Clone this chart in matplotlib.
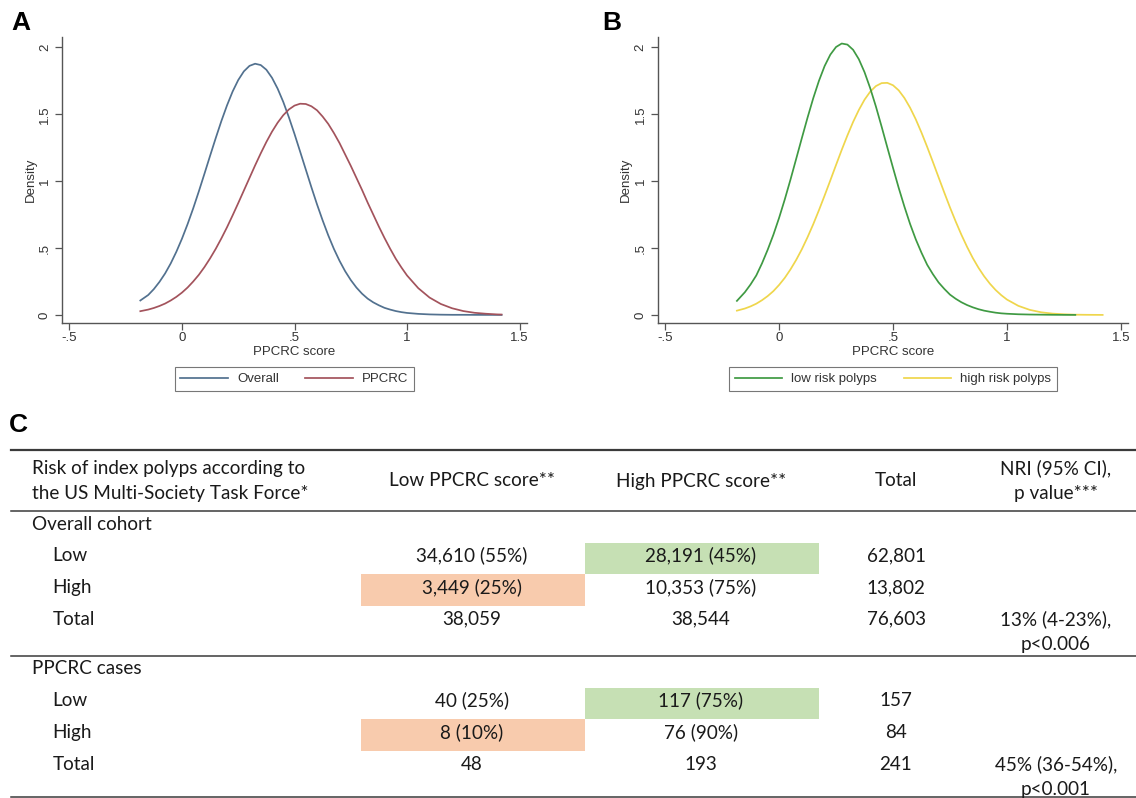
import matplotlib
matplotlib.use("Agg")
import matplotlib.pyplot as plt
from matplotlib.patches import Rectangle

score = [-0.185,
         -0.15, -0.125, -0.10, -0.075, -0.05, -0.025, 0.00, 0.025, 0.05, 0.075,
         0.10, 0.125, 0.15, 0.175, 0.20, 0.225, 0.25, 0.275, 0.30, 0.325,
         0.35, 0.375, 0.40, 0.425, 0.45, 0.475, 0.50, 0.525, 0.55, 0.575,
         0.60, 0.625, 0.65, 0.675, 0.70, 0.725, 0.75, 0.775, 0.80, 0.825,
         0.85, 0.875, 0.90, 0.925, 0.95, 0.975, 1.00,
         1.05, 1.10, 1.15, 1.20, 1.25, 1.30, 1.35, 1.40, 1.42]

dens_overall = [0.108,
                0.149, 0.193, 0.247, 0.310, 0.385, 0.472, 0.570, 0.679, 0.797, 0.924,
                1.056, 1.190, 1.322, 1.449, 1.566, 1.670, 1.756, 1.821, 1.862, 1.878,
                1.868, 1.833, 1.773, 1.692, 1.593, 1.478, 1.353, 1.221, 1.088, 0.955,
                0.827, 0.707, 0.595, 0.494, 0.405, 0.327, 0.261, 0.205, 0.159, 0.122,
                0.094, 0.072, 0.053, 0.040, 0.029, 0.021, 0.015,
                0.008, 0.004, 0.002, 0.001, 0.001, 0.0005, 0.0003, 0.0002, 0.0001]
dens_ppcrc = [0.028,
              0.040, 0.052, 0.067, 0.085, 0.108, 0.135, 0.167, 0.205, 0.250, 0.300,
              0.358, 0.423, 0.494, 0.572, 0.655, 0.744, 0.836, 0.930, 1.024, 1.118,
              1.208, 1.293, 1.370, 1.437, 1.493, 1.536, 1.565, 1.579, 1.577, 1.560,
              1.530, 1.483, 1.428, 1.360, 1.285, 1.200, 1.115, 1.025, 0.935, 0.840,
              0.750, 0.660, 0.575, 0.495, 0.420, 0.355, 0.295,
              0.200, 0.130, 0.082, 0.050, 0.029, 0.016, 0.009, 0.004, 0.003]
dens_low_risk = [0.105,
                 0.170, 0.228, 0.295, 0.385, 0.487, 0.599, 0.725, 0.863, 1.011, 1.166,
                 1.322, 1.475, 1.620, 1.750, 1.861, 1.946, 2.003, 2.029, 2.021, 1.982,
                 1.912, 1.815, 1.695, 1.558, 1.408, 1.253, 1.100, 0.950, 0.810, 0.680,
                 0.565, 0.465, 0.375, 0.305, 0.243, 0.195, 0.152, 0.121, 0.095, 0.074,
                 0.057, 0.043, 0.032, 0.024, 0.017, 0.012, 0.009,
                 0.005, 0.003, 0.002, 0.001, 0.0005, 0.0003]
dens_high_risk = [0.032,
                  0.048, 0.064, 0.084, 0.110, 0.141, 0.178, 0.224, 0.277, 0.340, 0.411,
                  0.491, 0.581, 0.678, 0.783, 0.893, 1.006, 1.121, 1.234, 1.342, 1.443,
                  1.532, 1.609, 1.669, 1.711, 1.733, 1.735, 1.717, 1.679, 1.622, 1.549,
                  1.462, 1.363, 1.256, 1.144, 1.029, 0.915, 0.804, 0.699, 0.600, 0.509,
                  0.426, 0.353, 0.289, 0.234, 0.187, 0.148, 0.115,
                  0.068, 0.038, 0.020, 0.010, 0.005, 0.002, 0.001, 0.0005, 0.0002]

x_ticks = [-0.5, 0, 0.5, 1, 1.5]
x_tick_labels = ["-.5", "0", ".5", "1", "1.5"]
y_ticks = [0, 0.5, 1, 1.5, 2]
y_tick_labels = ["0", ".5", "1", "1.5", "2"]

# ---- table C ----
header_first = ["Risk of index polyps according to", "the US Multi-Society Task Force*"]
header_cols = ["Low PPCRC score**", "High PPCRC score**", "Total", "NRI (95% CI),\np value***"]
groups = ["Overall cohort", "PPCRC cases"]
row_labels = ["Low", "High", "Total"]
overall_rows = [["34,610 (55%)", "28,191 (45%)", "62,801"],
                ["3,449 (25%)", "10,353 (75%)", "13,802"],
                ["38,059", "38,544", "76,603"]]
cases_rows = [["40 (25%)", "117 (75%)", "157"],
              ["8 (10%)", "76 (90%)", "84"],
              ["48", "193", "241"]]
nri = ["13% (4-23%),\np<0.006", "45% (36-54%),\np<0.001"]

W, H = 1136, 798
plt.rcParams["font.family"] = ["Liberation Sans", "DejaVu Sans"]
fig = plt.figure(figsize=(W / 100, H / 100), dpi=100)

axis_col = "#555555"
txt_col = "#333333"


def density_panel(rect, curves, colors, names, order):
    ax = fig.add_axes(rect)
    lines = []
    for (xs, ys), c in zip(curves, colors):
        ln, = ax.plot(xs, ys, color=c, lw=1.25)
        lines.append(ln)
    ax.set_xlim(-0.533, 1.533)
    ax.set_ylim(-0.058, 2.08)
    ax.set_xticks(x_ticks)
    ax.set_xticklabels(x_tick_labels)
    ax.set_yticks(y_ticks)
    ax.set_yticklabels(y_tick_labels, rotation=90, va="center")
    for s in ["top", "right"]:
        ax.spines[s].set_visible(False)
    for s in ["left", "bottom"]:
        ax.spines[s].set_color(axis_col)
        ax.spines[s].set_linewidth(1.0)
    ax.tick_params(length=5, width=0.9, color=axis_col, labelsize=9.5,
                   labelcolor=txt_col)
    ax.tick_params(axis="x", pad=1.5)
    ax.tick_params(axis="y", pad=3)
    ax.set_xlabel("PPCRC score", fontsize=9.5, color=txt_col)
    ax.set_ylabel("Density", fontsize=9.5, color=txt_col)
    ax.xaxis.set_label_coords(0.5, -0.081)
    ax.yaxis.set_label_coords(-0.054, 0.5)
    leg = ax.legend([lines[i] for i in order], [names[i] for i in order],
                    loc="center", bbox_to_anchor=(0.5, -0.197),
                    ncol=2, fontsize=9.5, frameon=True, fancybox=False,
                    edgecolor="#777777", framealpha=1, handlelength=3.6,
                    handletextpad=0.7, columnspacing=2.0, borderpad=0.45)
    leg.get_frame().set_linewidth(0.8)
    for t in leg.get_texts():
        t.set_color(txt_col)
    return ax


density_panel([62 / W, 1 - 322.7 / H, 465 / W, 286 / H],
              [(score, dens_overall), (score, dens_ppcrc)],
              ["#52718f", "#a3535c"], ["Overall", "PPCRC"], [0, 1])
density_panel([657.6 / W, 1 - 322.7 / H, 470.8 / W, 286 / H],
              [(score, dens_high_risk), (score[:len(dens_low_risk)], dens_low_risk)],
              ["#efd64c", "#3f9a43"], ["high risk polyps", "low risk polyps"], [1, 0])

for letter, lx, ly in [("A", 11, 11), ("B", 602, 11), ("C", 9, 413)]:
    fig.text(lx / W, 1 - ly / H, letter, fontsize=19, fontweight="bold",
             va="top", ha="left", color="black")

# ---- table drawn in pixel space ----
tab = fig.add_axes([0, 0, 1, 1], zorder=-1)
tab.set_xlim(0, W)
tab.set_ylim(H, 0)
tab.axis("off")

tfont = dict(family=["Lato", "DejaVu Sans"], fontsize=13.6, color="#1a1a1a")
line_y = [449.5, 511, 656, 796.5]
line_w = [1.6, 1.1, 1.1, 1.1]
for y, lw in zip(line_y, line_w):
    tab.plot([11, W], [y, y], color="#3a3a3a", lw=lw)

col_x = [472, 701, 896, 1056]
label_x, sub_x = 32, 52.5
line_gap = 25
tab.text(label_x, 481 - line_gap / 2, header_first[0], ha="left", va="center", **tfont)
tab.text(label_x, 481 + line_gap / 2, header_first[1], ha="left", va="center", **tfont)
for cx, h in zip(col_x, header_cols):
    parts = h.split("\n")
    y0 = 481 - line_gap * (len(parts) - 1) / 2
    for k, p in enumerate(parts):
        tab.text(cx, y0 + k * line_gap, p, ha="center", va="center", **tfont)

group_y = [524, 669]
pitch = 31.7
cell_edges = [(361, 585), (585, 819)]
green, orange = "#c6e0b4", "#f8cbad"
for g, gy, rows, n in zip(groups, group_y, [overall_rows, cases_rows], nri):
    tab.text(label_x, gy, g, ha="left", va="center", **tfont)
    for i, (lab, vals) in enumerate(zip(row_labels, rows)):
        ry = gy + pitch * (i + 1)
        if lab == "Low":
            x0, x1 = cell_edges[1]
            tab.add_patch(Rectangle((x0, ry - 13.2), x1 - x0, pitch, color=green, lw=0))
        elif lab == "High":
            x0, x1 = cell_edges[0]
            tab.add_patch(Rectangle((x0, ry - 13.2), x1 - x0, pitch, color=orange, lw=0))
        tab.text(sub_x, ry, lab, ha="left", va="center", **tfont)
        for cx, v in zip(col_x, vals):
            tab.text(cx, ry, v, ha="center", va="center", **tfont)
    ty = gy + pitch * 3
    for k, p in enumerate(n.split("\n")):
        tab.text(col_x[3], ty + k * line_gap, p, ha="center", va="center", **tfont)

fig.savefig("out.png", dpi=100)
